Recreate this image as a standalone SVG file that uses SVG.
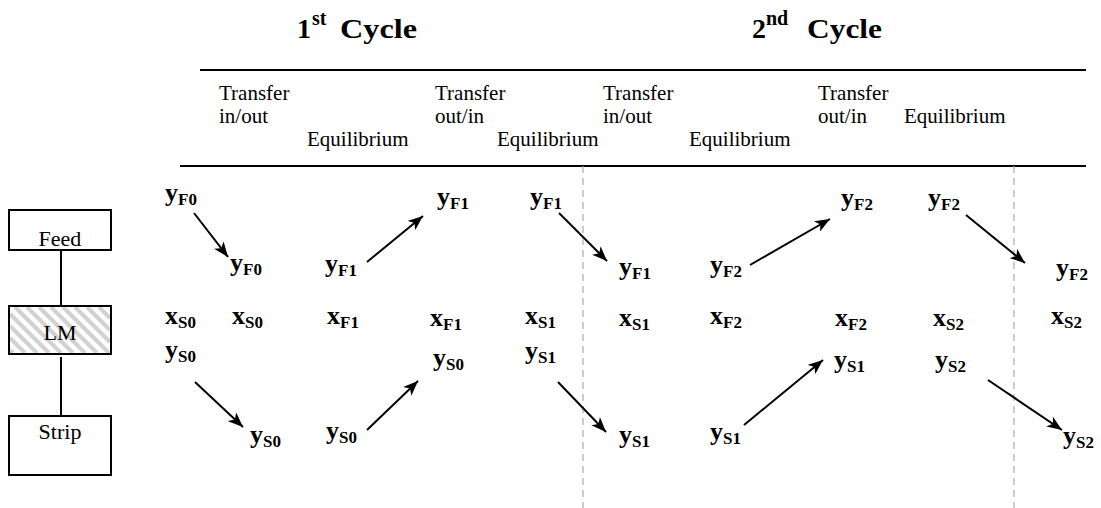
<svg xmlns="http://www.w3.org/2000/svg" width="1101" height="508" viewBox="0 0 1101 508" style="font-family:'Liberation Serif','Times New Roman',serif">
<defs>
<marker id="ah" markerUnits="userSpaceOnUse" markerWidth="16" markerHeight="12" refX="15" refY="6" orient="auto">
<path d="M0,0 L15,6 L0,12 L4,6 Z" fill="#000"/>
</marker>
</defs>
<rect width="1101" height="508" fill="#fff"/>

<g id="titles" font-weight="bold" fill="#000">
<text style="font-family:'Liberation Serif',serif" font-size="28" x="297" y="38">1</text>
<text style="font-family:'Liberation Serif',serif" font-size="20" x="312" y="25">st</text>
<text style="font-family:'Liberation Serif',serif" font-size="28" x="340" y="38" textLength="77" lengthAdjust="spacingAndGlyphs">Cycle</text>
<text style="font-family:'Liberation Serif',serif" font-size="28" x="752" y="38">2</text>
<text style="font-family:'Liberation Serif',serif" font-size="20" x="766" y="25">nd</text>
<text style="font-family:'Liberation Serif',serif" font-size="28" x="807" y="38" textLength="75" lengthAdjust="spacingAndGlyphs">Cycle</text>
</g>

<g id="rules" fill="none">
<g stroke="#000" stroke-width="2">
<line x1="200" y1="70" x2="1086" y2="70"/>
<line x1="180" y1="166" x2="1086" y2="166"/>
</g>
<g stroke="#aaa" stroke-width="1.2" stroke-dasharray="7 5">
<line x1="583" y1="166" x2="583" y2="508"/>
<line x1="1014" y1="166" x2="1014" y2="508"/>
</g>
</g>

<g id="headers" fill="#000">
<text style="font-family:'Liberation Serif',serif" font-size="21" x="219" y="100">Transfer</text><text style="font-family:'Liberation Serif',serif" font-size="21" x="219" y="123">in/out</text>
<text style="font-family:'Liberation Serif',serif" font-size="21" x="307" y="146">Equilibrium</text>
<text style="font-family:'Liberation Serif',serif" font-size="21" x="435" y="100">Transfer</text><text style="font-family:'Liberation Serif',serif" font-size="21" x="435" y="123">out/in</text>
<text style="font-family:'Liberation Serif',serif" font-size="21" x="497" y="146">Equilibrium</text>
<text style="font-family:'Liberation Serif',serif" font-size="21" x="603" y="100">Transfer</text><text style="font-family:'Liberation Serif',serif" font-size="21" x="603" y="123">in/out</text>
<text style="font-family:'Liberation Serif',serif" font-size="21" x="689" y="146">Equilibrium</text>
<text style="font-family:'Liberation Serif',serif" font-size="21" x="818" y="100">Transfer</text><text style="font-family:'Liberation Serif',serif" font-size="21" x="818" y="123">out/in</text>
<text style="font-family:'Liberation Serif',serif" font-size="21" x="904" y="123">Equilibrium</text>
</g>

<g id="feed"><rect x="9" y="210" width="102" height="40" fill="#fff" stroke="#000" stroke-width="2"/><text style="font-family:'Liberation Serif',serif" font-size="22" text-anchor="middle" x="60" y="246">Feed</text></g>
<g id="lm">
<rect x="9" y="306" width="102" height="48" fill="#fff"/>
<g stroke="#d2d2d2" stroke-width="4">
<line x1="10" y1="350" x2="13" y2="353"/>
<line x1="10" y1="338" x2="25" y2="353"/>
<line x1="10" y1="326" x2="37" y2="353"/>
<line x1="10" y1="314" x2="49" y2="353"/>
<line x1="15" y1="307" x2="61" y2="353"/>
<line x1="27" y1="307" x2="73" y2="353"/>
<line x1="39" y1="307" x2="85" y2="353"/>
<line x1="51" y1="307" x2="97" y2="353"/>
<line x1="63" y1="307" x2="109" y2="353"/>
<line x1="75" y1="307" x2="110" y2="342"/>
<line x1="87" y1="307" x2="110" y2="330"/>
<line x1="99" y1="307" x2="110" y2="318"/>
</g>
<rect x="9" y="306" width="102" height="48" fill="none" stroke="#000" stroke-width="2"/>
<text style="font-family:'Liberation Serif',serif" font-size="22" text-anchor="middle" x="60" y="340">LM</text>
</g>
<g id="strip"><rect x="9" y="416" width="102" height="59" fill="#fff" stroke="#000" stroke-width="2"/><text style="font-family:'Liberation Serif',serif" font-size="22" text-anchor="middle" x="60" y="439">Strip</text></g>

<g id="labels" font-weight="bold" fill="#000">
<g id="a1"><text style="font-family:'Liberation Serif',serif" font-size="26" x="165" y="201">y<tspan font-size="17" dy="4">F0</tspan></text></g>
<g id="a2"><text style="font-family:'Liberation Serif',serif" font-size="26" x="437" y="205">y<tspan font-size="17" dy="4">F1</tspan></text></g>
<g id="a3"><text style="font-family:'Liberation Serif',serif" font-size="26" x="530" y="205">y<tspan font-size="17" dy="4">F1</tspan></text></g>
<g id="a4"><text style="font-family:'Liberation Serif',serif" font-size="26" x="841" y="206">y<tspan font-size="17" dy="4">F2</tspan></text></g>
<g id="a5"><text style="font-family:'Liberation Serif',serif" font-size="26" x="928" y="206">y<tspan font-size="17" dy="4">F2</tspan></text></g>

<g id="b1"><text style="font-family:'Liberation Serif',serif" font-size="26" x="230" y="271">y<tspan font-size="17" dy="4">F0</tspan></text></g>
<g id="b2"><text style="font-family:'Liberation Serif',serif" font-size="26" x="325" y="272">y<tspan font-size="17" dy="4">F1</tspan></text></g>
<g id="b3"><text style="font-family:'Liberation Serif',serif" font-size="26" x="619" y="275">y<tspan font-size="17" dy="4">F1</tspan></text></g>
<g id="b4"><text style="font-family:'Liberation Serif',serif" font-size="26" x="710" y="273">y<tspan font-size="17" dy="4">F2</tspan></text></g>
<g id="b5"><text style="font-family:'Liberation Serif',serif" font-size="26" x="1056" y="276">y<tspan font-size="17" dy="4">F2</tspan></text></g>

<g id="c1"><text style="font-family:'Liberation Serif',serif" font-size="26" x="165" y="324">x<tspan font-size="17" dy="4">S0</tspan></text></g>
<g id="c2"><text style="font-family:'Liberation Serif',serif" font-size="26" x="232" y="324">x<tspan font-size="17" dy="4">S0</tspan></text></g>
<g id="c3"><text style="font-family:'Liberation Serif',serif" font-size="26" x="327" y="324">x<tspan font-size="17" dy="4">F1</tspan></text></g>
<g id="c4"><text style="font-family:'Liberation Serif',serif" font-size="26" x="430" y="326">x<tspan font-size="17" dy="4">F1</tspan></text></g>
<g id="c5"><text style="font-family:'Liberation Serif',serif" font-size="26" x="525" y="324">x<tspan font-size="17" dy="4">S1</tspan></text></g>
<g id="c6"><text style="font-family:'Liberation Serif',serif" font-size="26" x="619" y="326">x<tspan font-size="17" dy="4">S1</tspan></text></g>
<g id="c7"><text style="font-family:'Liberation Serif',serif" font-size="26" x="710" y="324">x<tspan font-size="17" dy="4">F2</tspan></text></g>
<g id="c8"><text style="font-family:'Liberation Serif',serif" font-size="26" x="835" y="326">x<tspan font-size="17" dy="4">F2</tspan></text></g>
<g id="c9"><text style="font-family:'Liberation Serif',serif" font-size="26" x="933" y="326">x<tspan font-size="17" dy="4">S2</tspan></text></g>
<g id="c10"><text style="font-family:'Liberation Serif',serif" font-size="26" x="1051" y="324">x<tspan font-size="17" dy="4">S2</tspan></text></g>

<g id="d1"><text style="font-family:'Liberation Serif',serif" font-size="26" x="165" y="358">y<tspan font-size="17" dy="4">S0</tspan></text></g>
<g id="d2"><text style="font-family:'Liberation Serif',serif" font-size="26" x="433" y="366">y<tspan font-size="17" dy="4">S0</tspan></text></g>
<g id="d3"><text style="font-family:'Liberation Serif',serif" font-size="26" x="525" y="359">y<tspan font-size="17" dy="4">S1</tspan></text></g>
<g id="d4"><text style="font-family:'Liberation Serif',serif" font-size="26" x="834" y="368">y<tspan font-size="17" dy="4">S1</tspan></text></g>
<g id="d5"><text style="font-family:'Liberation Serif',serif" font-size="26" x="935" y="368">y<tspan font-size="17" dy="4">S2</tspan></text></g>

<g id="e1"><text style="font-family:'Liberation Serif',serif" font-size="26" x="250" y="443">y<tspan font-size="17" dy="4">S0</tspan></text></g>
<g id="e2"><text style="font-family:'Liberation Serif',serif" font-size="26" x="326" y="439">y<tspan font-size="17" dy="4">S0</tspan></text></g>
<g id="e3"><text style="font-family:'Liberation Serif',serif" font-size="26" x="619" y="443">y<tspan font-size="17" dy="4">S1</tspan></text></g>
<g id="e4"><text style="font-family:'Liberation Serif',serif" font-size="26" x="710" y="440">y<tspan font-size="17" dy="4">S1</tspan></text></g>
<g id="e5"><text style="font-family:'Liberation Serif',serif" font-size="26" x="1063" y="444">y<tspan font-size="17" dy="4">S2</tspan></text></g>
</g>

<g id="connectors" stroke="#000" stroke-width="2" fill="none">
<line x1="61" y1="250" x2="61" y2="306"/>
<line x1="61" y1="357" x2="61" y2="416"/>
<g marker-end="url(#ah)">
<line x1="194" y1="213" x2="228" y2="257"/>
<line x1="367" y1="262" x2="423" y2="216"/>
<line x1="559" y1="213" x2="607" y2="261"/>
<line x1="750" y1="265" x2="830" y2="219"/>
<line x1="966" y1="215" x2="1025" y2="263"/>
<line x1="195" y1="382" x2="243" y2="427"/>
<line x1="367" y1="430" x2="418" y2="381"/>
<line x1="558" y1="382" x2="606" y2="432"/>
<line x1="744" y1="425" x2="823" y2="360"/>
<line x1="988" y1="380" x2="1062" y2="430"/>
</g>
</g>
</svg>
